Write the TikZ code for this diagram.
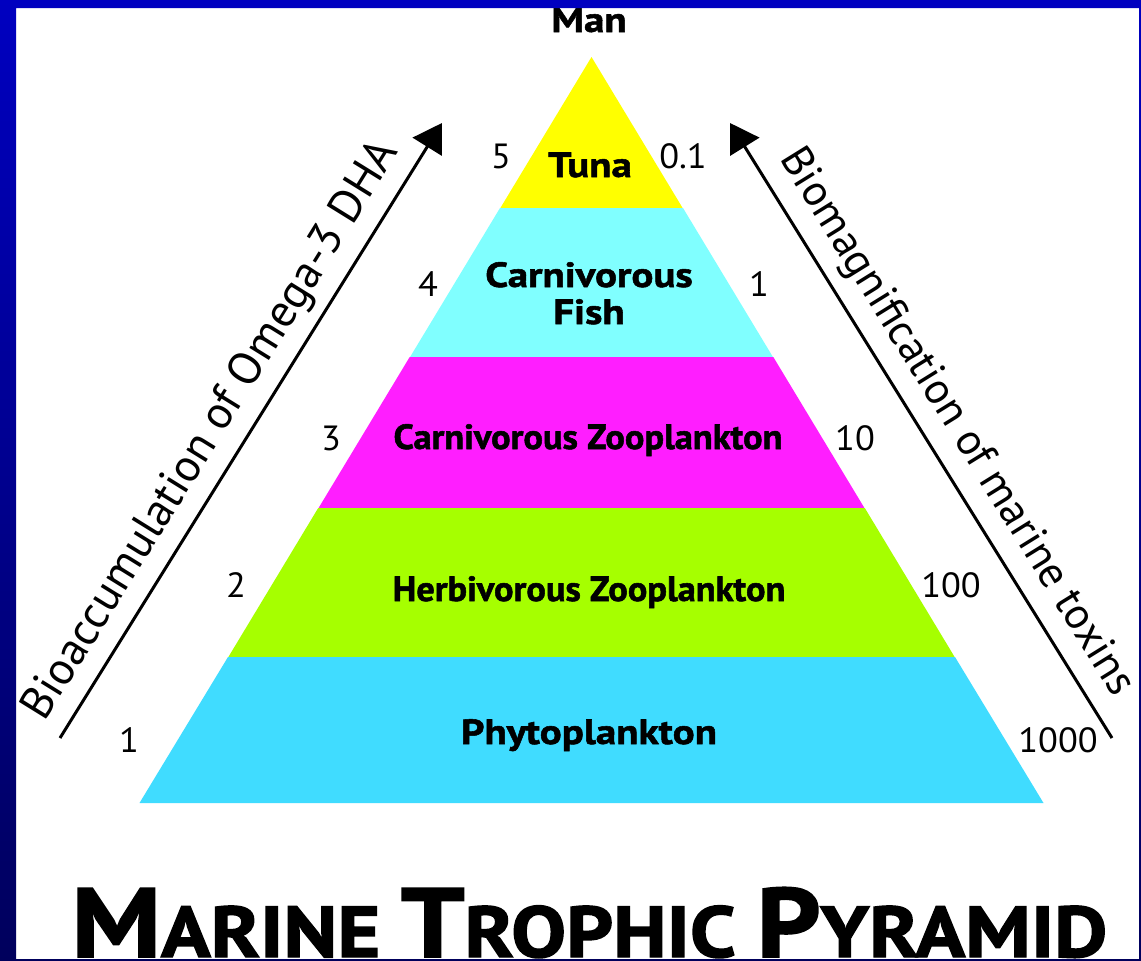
\documentclass[tikz,border=0pt]{standalone}
\usepackage{fontspec}
\setmainfont{PT Sans}
\newfontfamily\labfont{PT Sans}[FakeStretch=1.17, FakeBold=1.5]
\newfontfamily\condfont{PT Sans}[FakeStretch=1.04, FakeBold=1.5]
\newfontfamily\titlefont{PT Sans}[FakeStretch=1.14, FakeBold=2]
\newfontfamily\numfont{PT Sans}[FakeStretch=1.04]
\usetikzlibrary{arrows.meta,calc}
\definecolor{frameblue}{HTML}{0000C0}
\definecolor{framenavy}{HTML}{00005C}
\definecolor{ctuna}{HTML}{FFFF00}
\definecolor{cfish}{HTML}{80FFFF}
\definecolor{ccz}{HTML}{FF1EFF}
\definecolor{chz}{HTML}{A6FF00}
\definecolor{cphy}{HTML}{40DCFF}
\tikzset{
  lab/.style={inner sep=0pt, anchor=base, font=\fontsize{35}{37}\labfont\bfseries},
  condlab/.style={inner sep=0pt, anchor=base, font=\fontsize{35}{37}\condfont\bfseries},
  num/.style={inner sep=0pt, anchor=base, font=\fontsize{35}{37}\numfont},
  rot/.style={inner sep=0pt, font=\fontsize{44}{46}\selectfont},
  arr/.style={line width=3pt, -{Triangle[length=28pt,width=34pt]}},
}
\begin{document}
\begin{tikzpicture}[x=1pt,y=-1pt]
\useasboundingbox (0,0) rectangle (1141,961);
\fill[white] (0,0) rectangle (1141,961);
% pyramid bands
\fill[ctuna] (591.5,57) -- (683,208.6) -- (500,208.6) -- cycle;
\fill[cfish] (500,208) -- (683,208) -- (773.3,357.6) -- (409.7,357.6) -- cycle;
\fill[ccz] (409.7,357) -- (773.3,357) -- (864.8,508.6) -- (318.2,508.6) -- cycle;
\fill[chz] (318.2,508) -- (864.8,508) -- (955,657.6) -- (228,657.6) -- cycle;
\fill[cphy] (228,657) -- (955,657) -- (1043.5,803) -- (139.5,803) -- cycle;
% level labels
\node[lab] (man) at (589,32) {Man};
\node[lab] (tuna) at (590,177) {Tuna};
\node[lab] (fish1) at (589,287) {Carnivorous};
\node[lab] (fish2) at (589,324) {Fish};
\node[condlab] (cz) at (588,449) {Carnivorous Zooplankton};
\node[condlab] (hz) at (589,601) {Herbivorous Zooplankton};
\node[lab] (phy) at (589,744) {Phytoplankton};
% numbers
\node[num] (l5) at (501,168) {5};
\node[num] (r5) at (683,168) {0.1};
\node[num] (l4) at (428,296) {4};
\node[num] (r4) at (759,296) {1};
\node[num] (l3) at (331,450) {3};
\node[num] (r3) at (855,450) {10};
\node[num] (l2) at (236,597) {2};
\node[num] (r2) at (951,597) {100};
\node[num] (l1) at (129,752) {1};
\node[num] (r1) at (1058,752) {1000};
% arrows
\coordinate (la0) at (60,738);
\coordinate (la1) at (442,123);
\coordinate (ra0) at (1112,738);
\coordinate (ra1) at (730,123);
\draw[arr] (la0) -- (la1);
\draw[arr] (ra0) -- (ra1);
\node[rot, rotate=58.2] (bioacc) at (212,431) {\fontsize{46}{48}\selectfont Bioaccumulation of Omega-3 DHA};
\node[rot, rotate=-58.2] (biomag) at (956,423) {Biomagnification of marine toxins};
% title
\node[inner sep=0pt, anchor=base, font=\titlefont\bfseries] (title) at (589.5,957)
  {\fontsize{98}{98}\selectfont M\fontsize{72}{72}\selectfont ARINE \fontsize{98}{98}\selectfont T\fontsize{72}{72}\selectfont ROPHIC \fontsize{98}{98}\selectfont P\fontsize{72}{72}\selectfont YRAMID};
% frame
\shade[top color=frameblue, bottom color=framenavy, even odd rule]
  (0,0) rectangle (1141,961) (16,8) rectangle (1139,959);
\end{tikzpicture}
\end{document}
